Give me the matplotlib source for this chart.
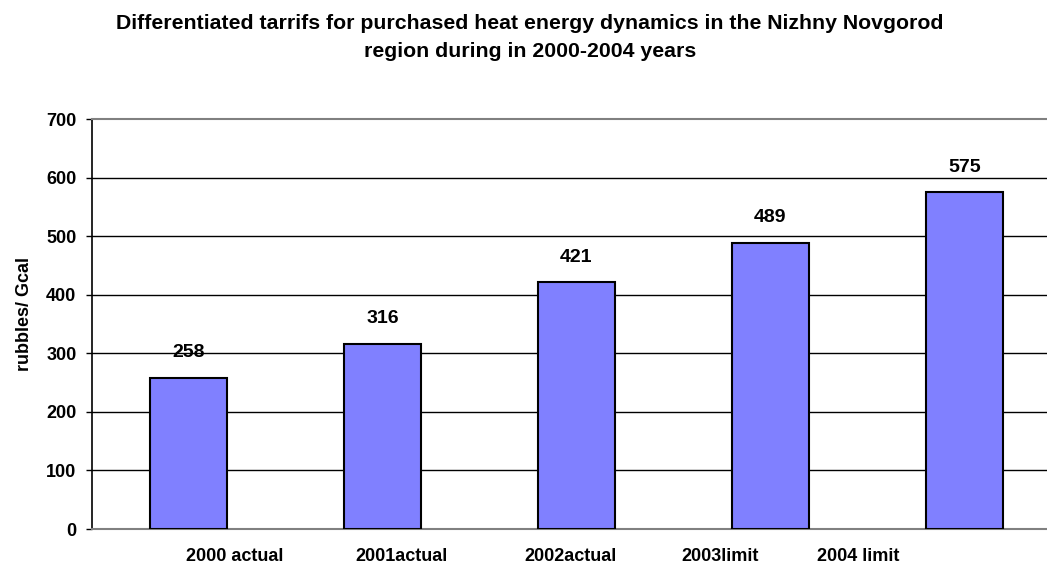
import matplotlib.pyplot as plt

# tariff values, rubbles per Gcal
categories = ['2000 actual', '2001actual', '2002actual', '2003limit', '2004 limit']
tariffs = [258, 316, 421, 489, 575]
y_ticks = [0, 100, 200, 300, 400, 500, 600, 700]

# the category labels in the original sit off-centre from the bars
label_pos = [0.24, 1.10, 1.97, 2.74, 3.45]

plt.rcParams['font.family'] = ['Liberation Sans', 'DejaVu Sans']
plt.rcParams['font.weight'] = 'bold'

fig = plt.figure(figsize=(10.47, 5.66), dpi=100)
# plot area runs a little past the right edge of the picture
ax = fig.add_axes([91.5 / 1047, 37 / 566, 970 / 1047, 410 / 566])

bars = ax.bar(range(len(tariffs)), tariffs, width=0.40, color='#8080FF',
              edgecolor='black', linewidth=1.5, zorder=3)
ax.bar_label(bars, padding=12, fontsize=14, fontweight='bold')

ax.set_xlim(-0.5, 4.5)
ax.set_ylim(0, 700)
ax.set_yticks(y_ticks)
ax.tick_params(axis='y', direction='out', length=4.3, width=1, pad=6.5,
               labelsize=13, color='black')
ax.set_xticks(label_pos, categories)
ax.tick_params(axis='x', length=0, pad=14, labelsize=13)
for lab in ax.get_xticklabels() + ax.get_yticklabels():
    lab.set_fontweight('bold')

ax.yaxis.grid(True, color='black', linewidth=1)
grid = ax.yaxis.get_gridlines()
grid[0].set_visible(False)
grid[-1].set_visible(False)
ax.set_axisbelow(True)

ax.spines['left'].set_color('black')
ax.spines['left'].set_linewidth(1.2)
ax.spines['bottom'].set_color('#808080')
ax.spines['bottom'].set_linewidth(1.5)
ax.spines['top'].set_color('#808080')
ax.spines['top'].set_linewidth(1.5)
ax.spines['right'].set_visible(False)

ax.set_ylabel('rubbles/ Gcal', fontsize=13, fontweight='bold')
ax.yaxis.set_label_coords(-58 / 970, (529 - 314) / 410)

fig.text(530 / 1047, 1 - 14 / 566,
         'Differentiated tarrifs for purchased heat energy dynamics in the Nizhny Novgorod\n'
         'region during in 2000-2004 years',
         ha='center', va='top', fontsize=15.3, fontweight='bold', linespacing=1.62)

fig.savefig('out.png', dpi=100)
